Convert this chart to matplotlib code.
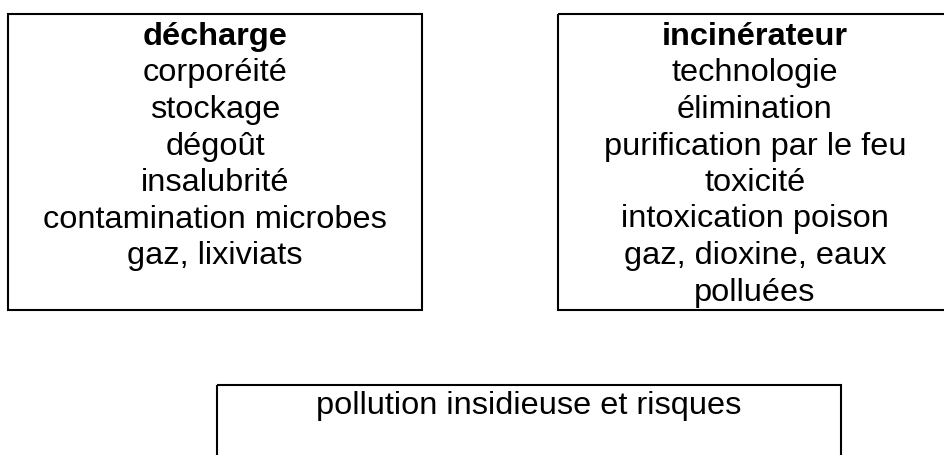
import matplotlib
matplotlib.use("Agg")
import matplotlib.pyplot as plt
from matplotlib.patches import Rectangle

plt.rcParams['font.family'] = ['Liberation Sans', 'DejaVu Sans']

# Text content
left_title = "décharge"
left_items = ["corporéité", "stockage", "dégoût", "insalubrité",
              "contamination microbes", "gaz, lixiviats"]
right_title = "incinérateur"
right_items = ["technologie", "élimination", "purification par le feu",
               "toxicité", "intoxication poison", "gaz, dioxine, eaux", "polluées"]
bottom_text = "pollution insidieuse et risques"

W, H = 945, 455
fig = plt.figure(figsize=(W / 100, H / 100), dpi=100)
ax = fig.add_axes([0, 0, 1, 1])
ax.set_xlim(0, W)
ax.set_ylim(H, 0)
ax.axis('off')

FS = 23.4
LS = 36.5
LW = 1.5

def box(x0, y0, x1, y1):
    ax.add_patch(Rectangle((x0, y0), x1 - x0, y1 - y0, fill=False,
                           edgecolor='black', linewidth=LW, clip_on=False))

def block(cx, y0, title, items):
    ax.text(cx, y0, title, ha='center', va='baseline', fontsize=FS,
            fontweight='bold', color='black')
    for i, s in enumerate(items):
        ax.text(cx, y0 + (i + 1) * LS, s, ha='center', va='baseline',
                fontsize=FS, color='black')

# Left box
box(8, 14, 422, 310)
block(215, 45, left_title, left_items)

# Right box
box(558, 14, 952, 310)
block(755, 45, right_title, right_items)

# Bottom box
box(217, 385, 841, 475)
ax.text(529, 414, bottom_text, ha='center', va='baseline', fontsize=FS,
        color='black')

fig.savefig("out.png", dpi=100)
